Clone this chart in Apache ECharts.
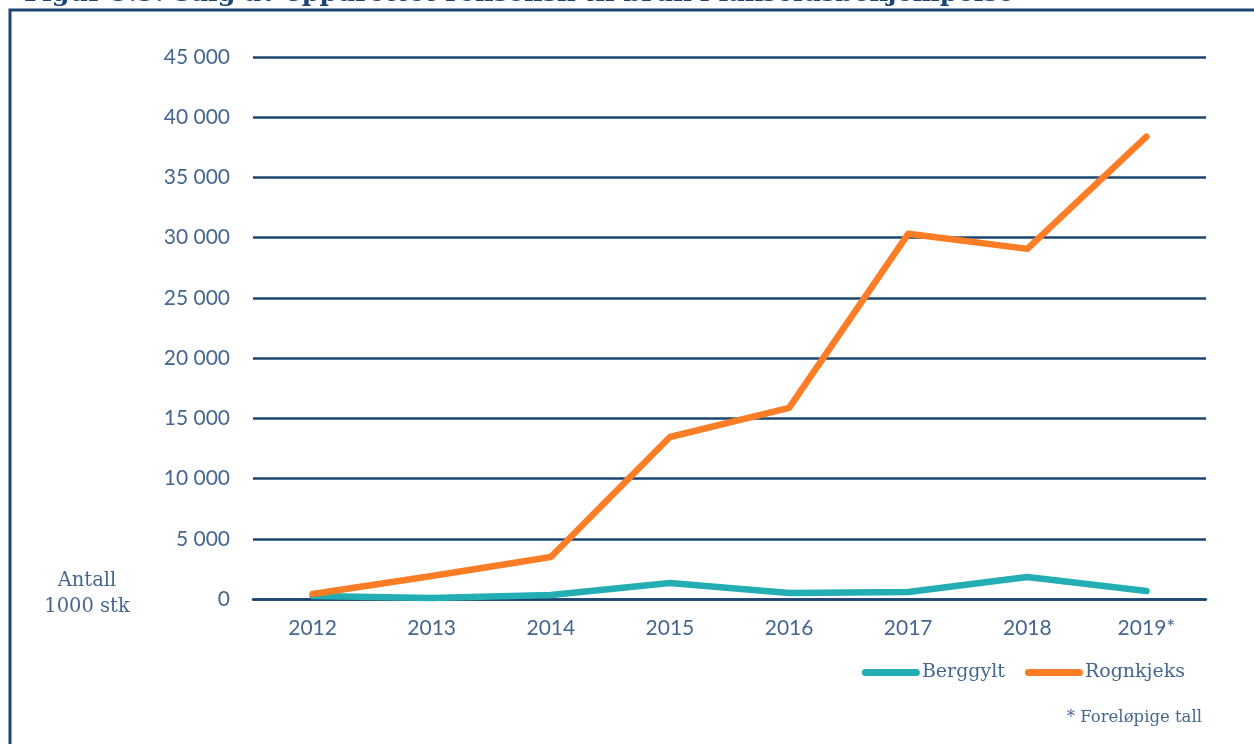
<!DOCTYPE html>
<html>
<head>
<meta charset="utf-8">
<script src="https://cdn.jsdelivr.net/npm/echarts@6/dist/echarts.min.js"></script>
<style>
  html, body { margin: 0; padding: 0; background: #fff; }
  #chart { width: 1254px; height: 744px; }
</style>
</head>
<body>
<div id="chart"></div>
<script>
// år og solgte rensefisk (1000 stk)
const years = ['2012', '2013', '2014', '2015', '2016', '2017', '2018', '2019*']
const berggylt = [250, 80, 330, 1330, 500, 580, 1830, 660]
const rognkjeks = [420, 1910, 3490, 13450, 15870, 30320, 29070, 38380]

const navy = '#1d4571'
const labelColor = '#45678f'
const serif = '"DejaVu Serif", serif'
const sans = 'Lato, sans-serif'

const chart = echarts.init(document.getElementById('chart'))

chart.setOption({
  animation: false,
  grid: { left: 253, right: 48, top: 57, bottom: 145 },
  legend: {
    right: 64,
    top: 658,
    itemWidth: 58,
    itemHeight: 7,
    itemGap: 20,
    icon: 'path://M3.5,0 H54.5 A3.5,3.5 0 0 1 54.5,7 H3.5 A3.5,3.5 0 0 1 3.5,0 Z',
    textStyle: { fontFamily: serif, fontSize: 19, color: labelColor, padding: [0, 0, 0, -3] },
    data: ['Berggylt', 'Rognkjeks']
  },
  xAxis: {
    type: 'category',
    data: years,
    boundaryGap: true,
    axisLine: { show: true, lineStyle: { color: navy, width: 2.5 } },
    axisTick: { show: false },
    axisLabel: { color: labelColor, fontFamily: sans, fontSize: 21, margin: 19 }
  },
  yAxis: {
    type: 'value',
    min: 0,
    max: 45000,
    interval: 5000,
    axisLine: { show: false },
    axisTick: { show: false },
    splitLine: { lineStyle: { color: navy, width: 2.5 } },
    axisLabel: {
      color: labelColor,
      fontFamily: sans,
      fontSize: 21,
      margin: 23,
      formatter: v => String(v).replace(/\B(?=(\d{3})+(?!\d))/g, ' ')
    }
  },
  series: [
    {
      name: 'Berggylt',
      type: 'line',
      data: berggylt,
      symbol: 'none',
      itemStyle: { color: '#22aeb3' },
      lineStyle: { color: '#22aeb3', width: 6.5, cap: 'round', join: 'round' }
    },
    {
      name: 'Rognkjeks',
      type: 'line',
      data: rognkjeks,
      symbol: 'none',
      itemStyle: { color: '#fc7d26' },
      lineStyle: { color: '#fc7d26', width: 6.5, cap: 'round', join: 'round' }
    }
  ],
  graphic: [
    {
      type: 'text',
      left: 24,
      top: -19,
      style: {
        text: 'Figur 5.5: Salg av oppdrettet rensefisk til bruk i lakselusbekjempelse',
        fontFamily: serif,
        fontWeight: 'bold',
        fontSize: 25.5,
        fill: navy
      }
    },
    {
      type: 'rect',
      shape: { x: 10, y: 10, width: 1300, height: 800 },
      style: { fill: 'none', stroke: navy, lineWidth: 3 }
    },
    {
      type: 'text',
      x: 87,
      y: 594,
      style: {
        text: 'Antall\n1000 stk',
        fontFamily: serif,
        fontSize: 19.5,
        lineHeight: 26,
        fill: labelColor,
        align: 'center',
        verticalAlign: 'middle'
      }
    },
    {
      type: 'text',
      x: 1202,
      y: 718,
      style: {
        text: '* Foreløpige tall',
        fontFamily: serif,
        fontSize: 16.5,
        fill: labelColor,
        align: 'right',
        verticalAlign: 'middle'
      }
    }
  ]
})
</script>
</body>
</html>
